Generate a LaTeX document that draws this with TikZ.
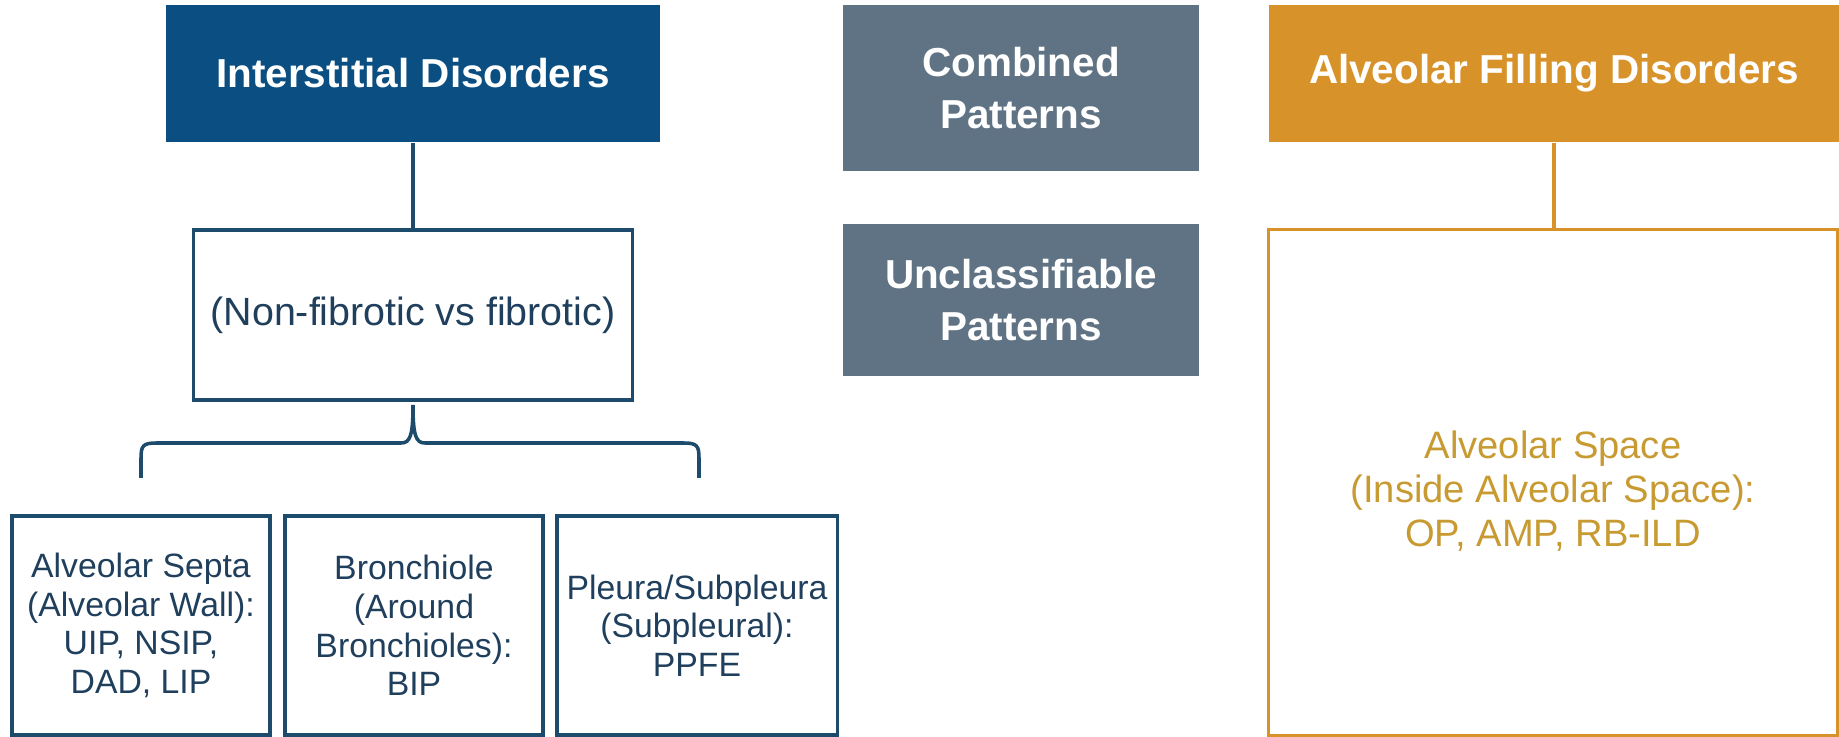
\documentclass[tikz,border=0pt]{standalone}
\usepackage{fontspec}
\setmainfont{Liberation Sans}
\definecolor{intblue}{HTML}{0B4F82}
\definecolor{patgray}{HTML}{5F7384}
\definecolor{fillorange}{HTML}{D8922A}
\definecolor{spacegold}{HTML}{C89A32}
\definecolor{edgeblue}{HTML}{1C4B6C}
\definecolor{txtblue}{HTML}{1F3F5C}
\tikzset{
  hdr/.style={fill=#1, text=white, align=center, inner sep=0pt,
    font=\bfseries\fontsize{11.5}{15}\selectfont},
  leaf/.style={draw=edgeblue, line width=0.9pt, text=txtblue, align=center,
    inner sep=0pt, font=\fontsize{9.6}{11}\selectfont},
  link/.style={draw=#1, line width=0.9pt}
}
\begin{document}
\begin{tikzpicture}[x=0.01cm, y=-0.01cm]
    \useasboundingbox (0,0) rectangle (1839,737);

    % left column
    \node[hdr=intblue, minimum width=4.935cm, minimum height=1.37cm] (inter) at (413,73.4) {Interstitial Disorders};
    \node[leaf, font=\fontsize{11.2}{13}\selectfont, minimum width=4.385cm, minimum height=1.70cm] (nonfib) at (413,315) {(Non-fibrotic vs fibrotic)};
    \draw[link=edgeblue] (inter) -- (nonfib);

    % brace
    \coordinate (tip) at (413,405);
    \coordinate (bl) at (141,478);
    \coordinate (br) at (699,478);
    \draw[edgeblue, line width=1pt] (bl) -- (141,458) .. controls (141,446) and (143,443) .. (156,443)
        -- (401,443) .. controls (410,443) and (413,436) .. (tip)
        .. controls (413,436) and (416,443) .. (425,443) -- (684,443)
        .. controls (697,443) and (699,446) .. (699,458) -- (br);

    % leaves
    \node[leaf, minimum width=2.58cm, minimum height=2.19cm] (septa) at (141,625.5) {Alveolar Septa\\(Alveolar Wall):\\UIP, NSIP,\\DAD, LIP};
    \node[leaf, minimum width=2.58cm, minimum height=2.19cm] (bronch) at (414,625.5) {Bronchiole\\(Around\\Bronchioles):\\BIP};
    \node[leaf, minimum width=2.80cm, minimum height=2.19cm] (pleura) at (697,625.5) {Pleura/Subpleura\\(Subpleural):\\PPFE};

    % middle column
    \node[hdr=patgray, minimum width=3.56cm, minimum height=1.66cm] (comb) at (1021,88) {Combined\\Patterns};
    \node[hdr=patgray, minimum width=3.56cm, minimum height=1.52cm] (uncl) at (1021,300) {Unclassifiable\\Patterns};

    % right column
    \node[hdr=fillorange, minimum width=5.70cm, minimum height=1.37cm] (alvfill) at (1554,73.4) {Alveolar Filling Disorders};
    \node[draw=fillorange, line width=0.9pt, minimum width=5.68cm, minimum height=5.05cm] (alvspace) at (1553,482.5) {};
    \node[text=spacegold, align=center, inner sep=0pt, font=\fontsize{10.85}{12.5}\selectfont]
        (alvtext) at ([yshift=-0.09cm]alvspace.center) {Alveolar Space\\(Inside Alveolar Space):\\OP, AMP, RB-ILD};
    \draw[link=fillorange] (alvfill.south) -- (alvfill.south |- alvspace.north);
\end{tikzpicture}
\end{document}
